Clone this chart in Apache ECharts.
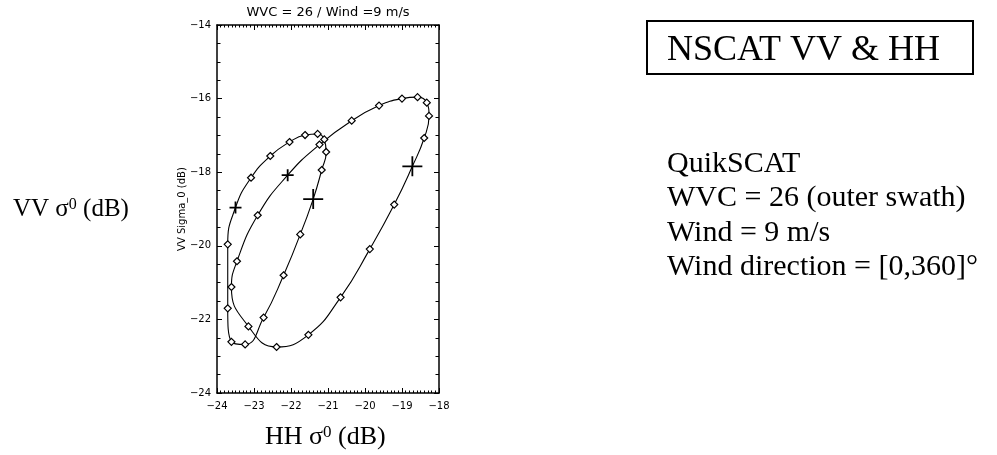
<!DOCTYPE html>
<html>
<head>
<meta charset="utf-8">
<script src="https://cdn.jsdelivr.net/npm/echarts@6/dist/echarts.min.js"></script>
<style>
  html, body { margin: 0; padding: 0; background: #fff; }
  #chart { width: 997px; height: 455px; }
</style>
</head>
<body>
<div id="chart"></div>
<script>
// axis ticks (dB)
const xTicks = [-24, -23, -22, -21, -20, -19, -18];
const yTicks = [-24, -22, -20, -18, -16, -14];

// large loop, HH / VV sigma0 in dB, in drawing order
const bigLoopHH = [-20.36, -21.23, -22.09, -22.90, -23.46, -23.61, -23.15, -22.39, -21.53, -20.66,
                   -19.87, -19.21, -18.72, -18.40, -18.27, -18.33, -18.58, -19.00, -19.62];
const bigLoopVV = [-16.60, -17.25, -18.08, -19.17, -20.42, -21.12, -22.19, -22.75, -22.42, -21.40,
                   -20.09, -18.88, -17.84, -17.07, -16.47, -16.11, -15.96, -16.00, -16.19];

// small loop
const smallLoopHH = [-21.75, -21.40, -21.17, -21.05, -21.10, -21.28, -21.62, -22.04, -22.56,
                     -23.08, -23.50, -23.71, -23.71, -23.61, -23.24, -22.74, -22.20];
const smallLoopVV = [-19.69, -18.73, -17.94, -17.45, -17.11, -16.96, -16.99, -17.18, -17.56,
                     -18.15, -18.96, -19.96, -21.70, -22.61, -22.68, -21.95, -20.80];

// "+" marks sitting on the loops
const crossHH = [-23.50, -22.09, -21.40, -18.72];
const crossVV = [-18.96, -18.08, -18.73, -17.84];

const isCross = (h, v) => crossHH.some((c, j) => c === h && crossVV[j] === v);
const closedLoop = (hh, vv) => hh.map((h, i) => [h, vv[i]]).concat([[hh[0], vv[0]]]);
const diamonds = (hh, vv) => hh.map((h, i) => [h, vv[i]]).filter(p => !isCross(p[0], p[1]));
const crosses = crossHH.map((h, i) => [h, crossVV[i]]);

const plusPath = 'path://M0,5L10,5M5,0L5,10';
const tickFont = 'DejaVu Sans';
const serif = "'Liberation Serif', 'Times New Roman', serif";

const chart = echarts.init(document.getElementById('chart'));

const baseX = {
  type: 'value',
  min: xTicks[0],
  max: xTicks[xTicks.length - 1],
  interval: 1,
  axisLine: { show: true, onZero: false, lineStyle: { color: '#000', width: 1.5 } },
  axisTick: { show: true, inside: true, length: 5, lineStyle: { color: '#000' } },
  minorTick: { show: true, splitNumber: 10, length: 2.5, lineStyle: { color: '#000' } },
  splitLine: { show: false },
  axisLabel: {
    color: '#000', fontSize: 10, fontFamily: tickFont, margin: 8,
    formatter: v => '\u2212' + Math.abs(v)
  }
};
const baseY = {
  type: 'value',
  min: yTicks[0],
  max: yTicks[yTicks.length - 1],
  interval: 2,
  axisLine: { show: true, onZero: false, lineStyle: { color: '#000', width: 1.5 } },
  axisTick: { show: true, inside: true, length: 5, lineStyle: { color: '#000' } },
  minorTick: { show: true, splitNumber: 4, length: 3.5, lineStyle: { color: '#000' } },
  splitLine: { show: false },
  axisLabel: {
    color: '#000', fontSize: 10, fontFamily: tickFont, margin: 6,
    formatter: v => '\u2212' + Math.abs(v)
  }
};

const loopLine = {
  type: 'line',
  smooth: 0.5,
  showSymbol: false,
  symbol: 'none',
  lineStyle: { color: '#000', width: 1.1 },
  z: 2
};
const diamondStyle = {
  type: 'scatter',
  symbol: 'diamond',
  symbolSize: [7, 7],
  itemStyle: { color: '#fff', borderColor: '#000', borderWidth: 1.2, opacity: 1 },
  z: 3
};
const crossStyle = {
  type: 'scatter',
  symbol: plusPath,
  itemStyle: { color: 'none', borderColor: '#000', borderWidth: 1.8, opacity: 1 },
  z: 4
};

// serif label with a raised superscript zero
const sigmaLabel = (pre, x, y, size) => ({
  type: 'text', x: x, y: y,
  style: {
    text: '{a|' + pre + ' σ}{s|0}{a| (dB)}', fill: '#000',
    textAlign: 'left', textVerticalAlign: 'middle',
    rich: {
      a: { fontSize: size, lineHeight: size, fontFamily: serif, color: '#000', verticalAlign: 'bottom' },
      s: { fontSize: Math.round(size * 0.64), lineHeight: Math.round(size * 0.64),
           fontFamily: serif, color: '#000', verticalAlign: 'top' },
      z: { lineHeight: size + 5 }
    }
  }
});

chart.setOption({
  animation: false,
  backgroundColor: '#fff',
  grid: { left: 217, top: 25, width: 222, height: 368 },
  xAxis: [
    baseX,
    Object.assign({}, baseX, { position: 'top', axisLabel: { show: false } })
  ],
  yAxis: [
    baseY,
    Object.assign({}, baseY, { position: 'right', axisLabel: { show: false } })
  ],
  series: [
    Object.assign({ data: closedLoop(bigLoopHH, bigLoopVV) }, loopLine),
    Object.assign({ data: closedLoop(smallLoopHH, smallLoopVV) }, loopLine),
    Object.assign({ data: diamonds(bigLoopHH, bigLoopVV) }, diamondStyle),
    Object.assign({ data: diamonds(smallLoopHH, smallLoopVV) }, diamondStyle),
    Object.assign({ data: crosses.slice(0, 2), symbolSize: 12 }, crossStyle),
    Object.assign({ data: crosses.slice(2), symbolSize: 20 }, crossStyle)
  ],
  graphic: [
    {
      type: 'text', x: 328, y: 13,
      style: { text: 'WVC = 26 / Wind =9 m/s', fontSize: 13, fontFamily: tickFont, fill: '#000',
               textAlign: 'center', textVerticalAlign: 'middle' }
    },
    {
      type: 'text', x: 182, y: 209, rotation: Math.PI / 2,
      style: { text: 'VV Sigma_0 (dB)', fontSize: 10, fontFamily: tickFont, fill: '#000',
               textAlign: 'center', textVerticalAlign: 'middle' }
    },
    sigmaLabel('VV', 13, 209, 25),
    sigmaLabel('HH', 265, 437, 26),
    {
      type: 'rect',
      shape: { x: 647, y: 21, width: 326, height: 53 },
      style: { fill: 'none', stroke: '#000', lineWidth: 2 }
    },
    {
      type: 'text', x: 667, y: 51,
      style: { text: 'NSCAT VV & HH', fontSize: 36, fontFamily: serif, fill: '#000',
               textAlign: 'left', textVerticalAlign: 'middle' }
    },
    {
      type: 'text', x: 667, y: 164,
      style: { text: 'QuikSCAT', fontSize: 30, fontFamily: serif, fill: '#000',
               textAlign: 'left', textVerticalAlign: 'middle' }
    },
    {
      type: 'text', x: 667, y: 198,
      style: { text: 'WVC = 26 (outer swath)', fontSize: 30, fontFamily: serif, fill: '#000',
               textAlign: 'left', textVerticalAlign: 'middle' }
    },
    {
      type: 'text', x: 667, y: 233,
      style: { text: 'Wind = 9 m/s', fontSize: 30, fontFamily: serif, fill: '#000',
               textAlign: 'left', textVerticalAlign: 'middle' }
    },
    {
      type: 'text', x: 667, y: 267,
      style: { text: 'Wind direction = [0,360]°', fontSize: 30, fontFamily: serif, fill: '#000',
               textAlign: 'left', textVerticalAlign: 'middle' }
    }
  ]
});
</script>
</body>
</html>
